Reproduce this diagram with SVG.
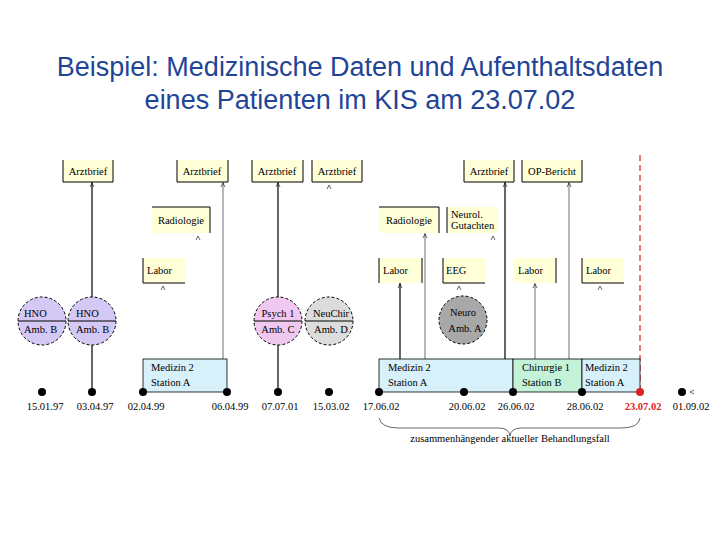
<svg xmlns="http://www.w3.org/2000/svg" width="720" height="540" viewBox="0 0 720 540">
<style>
.t{font-family:"Liberation Sans",Arial,sans-serif;font-size:27px;fill:#1f4597;text-anchor:middle}
.s{font-family:"Liberation Serif","Times New Roman",serif;font-size:10.5px;fill:#000}
.c{text-anchor:middle}
.doc{fill:#ffffd8;stroke:none}
.e{stroke:#000;stroke-width:1;fill:none}
.bl{stroke:#000;stroke-width:1.2}
.gr{stroke:#888;stroke-width:1.2}
.dot{fill:#000}
.mk{stroke:#000;stroke-width:0.6;fill:none}
</style>
<rect width="720" height="540" fill="#fff"/>
<text class="t" x="360" y="76">Beispiel: Medizinische Daten und Aufenthaltsdaten</text>
<text class="t" x="360" y="109">eines Patienten im KIS am 23.07.02</text>

<g id="connectors">
<line class="bl" x1="92" y1="182" x2="92" y2="297"/>
<line class="bl" x1="92" y1="345" x2="92" y2="392"/>
<line class="gr" x1="223" y1="182" x2="223" y2="359"/>
<line class="bl" x1="278" y1="182" x2="278" y2="297"/>
<line class="bl" x1="278" y1="345" x2="278" y2="392"/>
<line class="bl" x1="400" y1="283" x2="400" y2="359"/>
<line class="gr" x1="425" y1="233" x2="425" y2="359"/>
<line class="bl" x1="505" y1="182" x2="505" y2="359"/>
<line class="gr" x1="535" y1="283" x2="535" y2="359"/>
<line class="gr" x1="569" y1="182" x2="569" y2="359"/>
<line x1="640" y1="155" x2="640" y2="392" stroke="#d22" stroke-width="1.2" stroke-dasharray="6,4"/>
<path class="mk" d="M90,187 l2,-4 l2,4 M221,187 l2,-4 l2,4 M276,187 l2,-4 l2,4 M327,189 l2,-4 l2,4 M196,240 l2,-4 l2,4 M161,290 l2,-4 l2,4 M503,187 l2,-4 l2,4 M567,187 l2,-4 l2,4 M423,238 l2,-4 l2,4 M491,240 l2,-4 l2,4 M398,288 l2,-4 l2,4 M457,290 l2,-4 l2,4 M533,288 l2,-4 l2,4 M598,290 l2,-4 l2,4"/>
<path class="mk" d="M379,418 q2,10 20,10 h100 q10,0 11,8 q1,-8 11,-8 h100 q18,0 19,-10"/>
</g>

<g id="arztbrief1"><rect class="doc" x="63" y="160" width="50" height="22"/><path class="e" d="M63,160 V182 H113 V160"/><text class="s c" x="88" y="175">Arztbrief</text></g>
<g id="arztbrief2"><rect class="doc" x="177" y="160" width="51" height="22"/><path class="e" d="M177,160 V182 H228 V160"/><text class="s c" x="202" y="175">Arztbrief</text></g>
<g id="arztbrief3"><rect class="doc" x="252" y="160" width="51" height="22"/><path class="e" d="M252,160 V182 H303 V160"/><text class="s c" x="277" y="175">Arztbrief</text></g>
<g id="arztbrief4"><rect class="doc" x="312" y="160" width="50" height="22"/><path class="e" d="M312,160 V182 H362 V160"/><text class="s c" x="337" y="175">Arztbrief</text></g>
<g id="radiologie1"><rect class="doc" x="152" y="207" width="58" height="26"/><path class="e" d="M152,207 H210 V233"/><text class="s c" x="181" y="224">Radiologie</text></g>
<g id="labor1"><rect class="doc" x="143" y="258" width="42" height="25"/><path class="e" d="M143,258 V283 H185"/><text class="s" x="147" y="274">Labor</text></g>

<g id="hno1"><circle cx="42" cy="321" r="24" fill="#d4c8f5" stroke="#000" stroke-dasharray="3,2"/><line class="e" x1="18" y1="321" x2="66" y2="321"/><text class="s" x="24" y="317">HNO</text><text class="s" x="24" y="333">Amb. B</text></g>
<g id="hno2"><circle cx="92" cy="321" r="24" fill="#d4c8f5" stroke="#000" stroke-dasharray="3,2"/><line class="e" x1="68" y1="321" x2="116" y2="321"/><text class="s" x="76" y="317">HNO</text><text class="s" x="76" y="333">Amb. B</text></g>
<g id="psych"><circle cx="278" cy="321" r="24" fill="#f0c8f0" stroke="#000" stroke-dasharray="3,2"/><line class="e" x1="254" y1="321" x2="302" y2="321"/><text class="s c" x="278" y="317">Psych 1</text><text class="s c" x="278" y="333">Amb. C</text></g>
<g id="neuchir"><circle cx="329" cy="321" r="24" fill="#dcdcdc" stroke="#000" stroke-dasharray="3,2"/><line class="e" x1="305" y1="321" x2="353" y2="321"/><text class="s c" x="331" y="317">NeuChir</text><text class="s c" x="331" y="333">Amb. D</text></g>

<g id="med1"><rect x="143" y="359" width="84" height="33" fill="#d8f0fa" stroke="#000" stroke-width="0.8"/><text class="s" x="151" y="371">Medizin 2</text><text class="s" x="151" y="386">Station A</text></g>

<g id="arztbrief5"><rect class="doc" x="464" y="160" width="50" height="22"/><path class="e" d="M464,160 V182 H514 V160"/><text class="s c" x="489" y="175">Arztbrief</text></g>
<g id="opbericht"><rect class="doc" x="522" y="160" width="60" height="22"/><path class="e" d="M522,160 V182 H582 V160"/><text class="s c" x="552" y="175">OP-Bericht</text></g>
<g id="radiologie2"><rect class="doc" x="379" y="207" width="60" height="26"/><path class="e" d="M379,207 H439 V233"/><text class="s c" x="409" y="224">Radiologie</text></g>
<g id="gutachten"><rect class="doc" x="447" y="207" width="50" height="26"/><path class="e" d="M447,207 V233"/><text class="s" x="451" y="218">Neurol.</text><text class="s" x="451" y="229">Gutachten</text></g>
<g id="labor2"><rect class="doc" x="379" y="258" width="43" height="25"/><path class="e" d="M379,258 V283 M422,258 V283"/><text class="s" x="383" y="274">Labor</text></g>
<g id="eeg"><rect class="doc" x="443" y="258" width="42" height="25"/><path class="e" d="M443,258 V283 H485"/><text class="s" x="446" y="274">EEG</text></g>
<g id="labor3"><rect class="doc" x="514" y="258" width="42" height="25"/><path class="e" d="M556,258 V283"/><text class="s" x="518" y="274">Labor</text></g>
<g id="labor4"><rect class="doc" x="582" y="258" width="42" height="25"/><path class="e" d="M582,258 V283 H624"/><text class="s" x="586" y="274">Labor</text></g>
<g id="neuro"><circle cx="463" cy="320" r="24" fill="#a8a8a8" stroke="#000" stroke-dasharray="3,2"/><text class="s c" x="463" y="316">Neuro</text><text class="s c" x="465" y="332">Amb. A</text></g>

<g id="med2"><rect x="379" y="359" width="134" height="33" fill="#d8f0fa" stroke="#000" stroke-width="0.8"/><text class="s" x="388" y="371">Medizin 2</text><text class="s" x="388" y="386">Station A</text></g>
<g id="chir"><rect x="513" y="359" width="69" height="33" fill="#c4f2d8" stroke="#000" stroke-width="0.8"/><text class="s" x="522" y="371">Chirurgie 1</text><text class="s" x="522" y="386">Station B</text></g>
<g id="med3"><rect x="582" y="359" width="58" height="33" fill="#d8f0fa" stroke="#000" stroke-width="0.8"/><text class="s" x="585" y="371">Medizin 2</text><text class="s" x="585" y="386">Station A</text></g>

<g id="timeline">
<circle class="dot" cx="42" cy="392" r="4"/><circle class="dot" cx="92" cy="392" r="4"/><circle class="dot" cx="143" cy="392" r="4"/><circle class="dot" cx="227" cy="392" r="4"/><circle class="dot" cx="278" cy="392" r="4"/><circle class="dot" cx="329" cy="392" r="4"/><circle class="dot" cx="379" cy="392" r="4"/><circle class="dot" cx="464" cy="392" r="4"/><circle class="dot" cx="513" cy="392" r="4"/><circle class="dot" cx="582" cy="392" r="4"/><circle cx="640" cy="392" r="4" fill="#d22"/><circle class="dot" cx="682" cy="392" r="4"/>
<path class="mk" d="M690,392 l4,-2 M690,392 l4,2"/>
<text class="s c" x="45" y="410">15.01.97</text><text class="s c" x="95" y="410">03.04.97</text><text class="s c" x="146" y="410">02.04.99</text><text class="s c" x="230" y="410">06.04.99</text><text class="s c" x="280" y="410">07.07.01</text><text class="s c" x="331" y="410">15.03.02</text><text class="s c" x="381" y="410">17.06.02</text><text class="s c" x="467" y="410">20.06.02</text><text class="s c" x="516" y="410">26.06.02</text><text class="s c" x="585" y="410">28.06.02</text><text class="s c" x="643" y="410" font-weight="bold" style="fill:#d22">23.07.02</text><text class="s c" x="691" y="410">01.09.02</text>
<text class="s c" x="510" y="442">zusammenhängender aktueller Behandlungsfall</text>
</g>
</svg>
